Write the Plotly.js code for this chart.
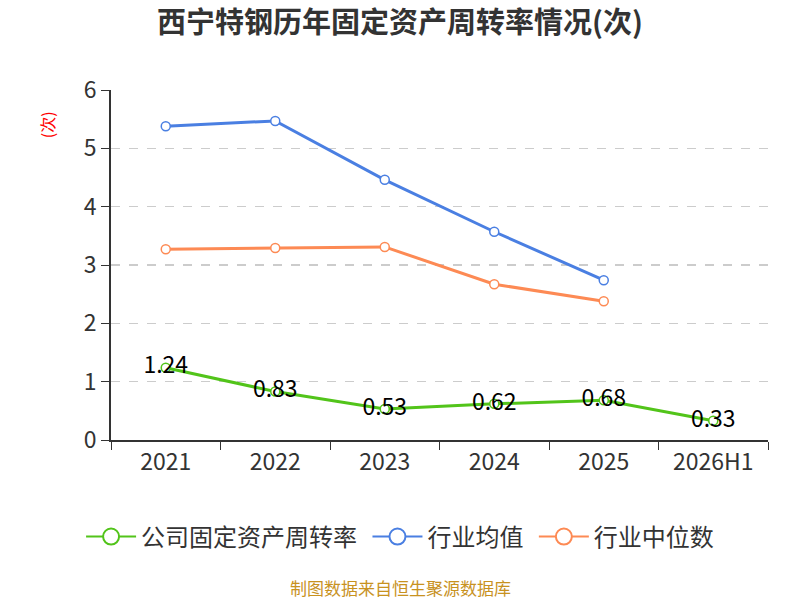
<!DOCTYPE html>
<html>
<head>
<meta charset="utf-8">
<script src="https://cdn.plot.ly/plotly-3.0.1.min.js"></script>
<style>
  body { margin: 0; background: #fff; }
  #myDiv { width: 800px; height: 600px; }
</style>
</head>
<body>
<div id="myDiv"></div>
<script>
var years = ['2021', '2022', '2023', '2024', '2025', '2026H1'];
var companyRate = [1.24, 0.83, 0.53, 0.62, 0.68, 0.33];
var industryAvg = [5.38, 5.47, 4.46, 3.57, 2.74];
var industryMedian = [3.27, 3.29, 3.31, 2.67, 2.38];
var yTicks = [0, 1, 2, 3, 4, 5, 6];

var font = '"Noto Sans CJK SC", "Microsoft YaHei", sans-serif';
var green = '#52c41a', blue = '#4a7fe2', orange = '#fd8a54';

function lineTrace(x, y, name, color) {
  return {
    x: x,
    y: y,
    name: name,
    type: 'scatter',
    mode: 'lines+markers',
    showlegend: false,
    line: { color: color, width: 3 },
    marker: { symbol: 'circle', size: 9, color: '#fff', line: { color: color, width: 1.5 } },
    cliponaxis: false
  };
}

// legend-only copies with larger symbols
function legendTrace(name, color) {
  return {
    x: [null],
    y: [null],
    name: name,
    type: 'scatter',
    mode: 'lines+markers',
    line: { color: color, width: 2 },
    marker: { symbol: 'circle', size: 16, color: '#fff', line: { color: color, width: 2 } }
  };
}

var trace1 = lineTrace(years, companyRate, '公司固定资产周转率', green);
trace1.mode = 'lines+markers+text';
trace1.text = companyRate.map(function (v) { return v.toFixed(2); });
trace1.textposition = 'middle center';
trace1.textfont = { size: 23, color: '#000', family: font };

var trace2 = lineTrace(years.slice(0, industryAvg.length), industryAvg, '行业均值', blue);
var trace3 = lineTrace(years.slice(0, industryMedian.length), industryMedian, '行业中位数', orange);

var data = [
  trace2, trace3, trace1,
  legendTrace('公司固定资产周转率&nbsp;', green),
  legendTrace('行业均值&nbsp;', blue),
  legendTrace('行业中位数', orange)
];

var layout = {
  width: 800,
  height: 600,
  margin: { l: 111, r: 32, t: 90, b: 160 },
  paper_bgcolor: '#fff',
  plot_bgcolor: '#fff',
  font: { family: font, color: '#333' },
  showlegend: true,
  title: {
    text: '<b>西宁特钢历年固定资产周转率情况(次)</b>',
    x: 0.5,
    xanchor: 'center',
    y: 0.962,
    yanchor: 'middle',
    font: { size: 29, color: '#333', family: font }
  },
  xaxis: {
    type: 'category',
    tickvals: years,
    tickson: 'boundaries',
    ticks: 'outside',
    ticklen: 8,
    tickcolor: '#333',
    showline: true,
    linecolor: '#333',
    linewidth: 2,
    showgrid: false,
    zeroline: false,
    tickfont: { size: 23, color: '#333', family: font },
    range: [-0.5, 5.5],
    fixedrange: true
  },
  yaxis: {
    range: [0, 6],
    tickvals: yTicks,
    ticks: 'outside',
    ticklen: 8,
    tickcolor: '#333',
    showline: true,
    linecolor: '#333',
    linewidth: 2,
    showgrid: true,
    gridcolor: '#cccccc',
    griddash: 'dash',
    gridwidth: 1.5,
    zeroline: false,
    tickfont: { size: 23, color: '#333', family: font },
    fixedrange: true
  },
  legend: {
    orientation: 'h',
    x: 0.44,
    xanchor: 'center',
    y: -0.277,
    yanchor: 'middle',
    font: { size: 24, color: '#333', family: font },
    itemwidth: 50
  },
  annotations: [
    {
      text: '(次)',
      xref: 'paper',
      yref: 'paper',
      x: -0.097,
      y: 0.9,
      xanchor: 'center',
      yanchor: 'middle',
      textangle: -90,
      showarrow: false,
      font: { size: 16, color: '#ff0000', family: font }
    },
    {
      text: '制图数据来自恒生聚源数据库',
      xref: 'paper',
      yref: 'paper',
      x: 0.44,
      y: -0.42,
      xanchor: 'center',
      yanchor: 'middle',
      showarrow: false,
      font: { size: 17, color: '#c8921f', family: font }
    }
  ]
};

Plotly.newPlot('myDiv', data, layout, { displayModeBar: false, staticPlot: true });
</script>
</body>
</html>
